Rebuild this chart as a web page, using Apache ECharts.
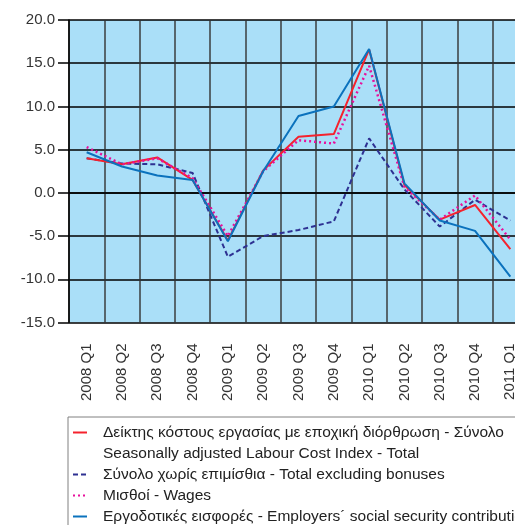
<!DOCTYPE html>
<html>
<head>
<meta charset="utf-8">
<script src="https://cdn.jsdelivr.net/npm/echarts@6/dist/echarts.min.js"></script>
<style>
    html, body { margin: 0; padding: 0; background: #fff; }
    #chart { width: 515px; height: 525px; }
</style>
</head>
<body>
<div id="chart"></div>
<script>
let quarters = ['2008 Q1', '2008 Q2', '2008 Q3', '2008 Q4', '2009 Q1', '2009 Q2', '2009 Q3',
    '2009 Q4', '2010 Q1', '2010 Q2', '2010 Q3', '2010 Q4', '2011 Q1'];

let totalIndex = [4.0, 3.3, 4.1, 1.5, -5.5, 2.6, 6.5, 6.8, 16.6, 0.9, -3.1, -1.4, -6.5];
let exclBonuses = [4.0, 3.4, 3.3, 2.3, -7.4, -5.0, -4.3, -3.3, 6.3, 0.4, -3.9, -0.8, -3.2];
let wages = [5.3, 3.3, 4.0, 1.7, -5.0, 2.5, 6.1, 5.7, 14.7, 0.7, -3.1, -0.3, -5.4];
let employers = [4.7, 3.05, 2.0, 1.5, -5.6, 2.5, 8.9, 10.0, 16.65, 1.1, -3.2, -4.4, -9.7];

let nameTotal = 'Δείκτης κόστους εργασίας με εποχική διόρθρωση - Σύνολο';
let nameTotalEn = 'Seasonally adjusted Labour Cost Index - Total';
let nameExcl = 'Σύνολο χωρίς επιμίσθια - Total excluding bonuses';
let nameWages = 'Μισθοί - Wages';
let nameEmp = 'Εργοδοτικές εισφορές - Employers\u00B4 social security contributions';

let myChart = echarts.init(document.getElementById('chart'));

let option = {
    animation: false,
    textStyle: { fontFamily: 'Liberation Sans' },
    grid: {
        left: 69,
        top: 20,
        width: 459,
        height: 302.5,
        outerBoundsMode: 'none',
        show: true,
        backgroundColor: '#aadff8',
        borderWidth: 0
    },
    legend: {
        orient: 'vertical',
        left: 68,
        top: 417,
        height: 200,
        padding: [5, 40, 8, 4],
        itemGap: 0,
        itemWidth: 14,
        itemHeight: 10,
        borderColor: '#808080',
        borderWidth: 1,
        selectedMode: false,
        itemStyle: { opacity: 0 },
        textStyle: {
            fontSize: 15.5,
            color: '#222',
            lineHeight: 21,
            padding: [0, 0, 0, 11]
        },
        data: [nameTotal, nameTotalEn, nameExcl, nameWages, nameEmp]
    },
    xAxis: {
        type: 'category',
        data: quarters,
        boundaryGap: true,
        axisLine: { lineStyle: { color: '#000', width: 1.5 } },
        axisTick: { show: false },
        splitLine: { show: true, lineStyle: { color: 'rgba(50,50,50,0.7)', width: 2 } },
        axisLabel: {
            rotate: 90,
            margin: 21,
            interval: 0,
            fontSize: 15,
            color: '#333',
            padding: [0, 0, 0, 0],
            offset: [3, 0]
        }
    },
    yAxis: {
        type: 'value',
        min: -15,
        max: 20,
        interval: 5,
        axisLine: { show: true, lineStyle: { color: '#000', width: 1.5 } },
        axisTick: { show: true, length: 11, lineStyle: { color: '#000', width: 1.5 } },
        splitLine: { lineStyle: { color: '#000', width: 1.5 } },
        axisLabel: {
            margin: 14,
            fontSize: 15,
            color: '#333',
            formatter: function (v) { return v.toFixed(1); }
        }
    },
    series: [
        {
            name: nameTotal,
            type: 'line',
            data: totalIndex,
            symbol: 'none',
            z: 3,
            lineStyle: { color: '#f5222d', width: 2 },
            itemStyle: { color: '#f5222d' }
        },
        {
            name: nameTotalEn,
            type: 'line',
            data: [],
            symbol: 'none',
            lineStyle: { color: 'transparent', width: 0 },
            itemStyle: { color: 'transparent' }
        },
        {
            name: nameExcl,
            type: 'line',
            data: exclBonuses,
            symbol: 'none',
            z: 2,
            lineStyle: { color: '#2e3192', width: 2, type: [5, 3] },
            itemStyle: { color: '#2e3192' }
        },
        {
            name: nameWages,
            type: 'line',
            data: wages,
            symbol: 'none',
            z: 4,
            lineStyle: { color: '#e8109c', width: 2.5, type: [2, 3] },
            itemStyle: { color: '#e8109c' }
        },
        {
            name: nameEmp,
            type: 'line',
            data: employers,
            symbol: 'none',
            z: 5,
            lineStyle: { color: '#0b72bd', width: 2 },
            itemStyle: { color: '#0b72bd' }
        }
    ]
};

myChart.setOption(option);
</script>
</body>
</html>
